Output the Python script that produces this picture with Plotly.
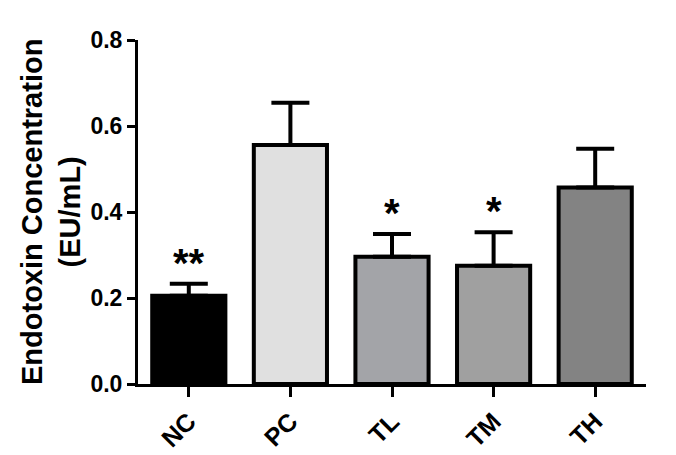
import plotly.graph_objects as go

categories = ["NC", "PC", "TL", "TM", "TH"]
means = [0.205, 0.556, 0.296, 0.275, 0.457]
sem_plus = [0.028, 0.098, 0.053, 0.078, 0.090]
bar_colors = ["#000000", "#e0e0e0", "#a3a4a8", "#a0a0a0", "#838383"]
significance = ["**", "", "*", "*", ""]

y_ticks = [0.0, 0.2, 0.4, 0.6, 0.8]
y_title = "Endotoxin Concentration<br>(EU/mL)"

FONT = "Liberation Sans, Arial, Helvetica, sans-serif"

fig = go.Figure()
fig.add_trace(go.Bar(
    x=categories,
    y=means,
    width=0.72,
    marker=dict(color=bar_colors, line=dict(color="black", width=4)),
    error_y=dict(type="data", array=sem_plus, arrayminus=[0] * len(means),
                 symmetric=False, color="black", thickness=4, width=19),
    showlegend=False,
))

for cat, m, e, s in zip(categories, means, sem_plus, significance):
    if s:
        fig.add_annotation(x=cat, y=m + e, text=s, showarrow=False,
                           yanchor="bottom", yshift=-3,
                           font=dict(family=FONT, size=40, color="black", weight="bold"))

# y-axis title (two lines, rotated)
fig.add_annotation(xref="paper", yref="paper", x=0, y=0.5, text=y_title,
                   textangle=-90, showarrow=False, xanchor="center", yanchor="middle",
                   xshift=-87,
                   font=dict(family=FONT, size=29, color="black", weight="bold"))

# page body has an 8px default margin, so the figure is 8px smaller
fig.update_layout(
    width=668, height=447,
    margin=dict(l=130, r=30, t=32, b=71),
    paper_bgcolor="white", plot_bgcolor="white",
    font=dict(family=FONT, color="black", weight="bold"),
)
fig.update_xaxes(
    range=[-0.5, 4.5], automargin=False,
    showline=True, linecolor="black", linewidth=3,
    ticks="outside", ticklen=10, tickwidth=3, tickcolor="black",
    tickangle=-45,
    tickfont=dict(family=FONT, size=25, color="black", weight="bold"),
    showgrid=False, zeroline=False,
)
fig.update_yaxes(
    range=[0, 0.8], automargin=False,
    tickvals=y_ticks,
    ticktext=[f"{v:.1f}" for v in y_ticks],
    showline=True, linecolor="black", linewidth=3,
    ticks="outside", ticklen=8, tickwidth=3, tickcolor="black",
    tickfont=dict(family=FONT, size=23, color="black", weight="bold"),
    showgrid=False, zeroline=False,
)

fig.write_html("out.html")
